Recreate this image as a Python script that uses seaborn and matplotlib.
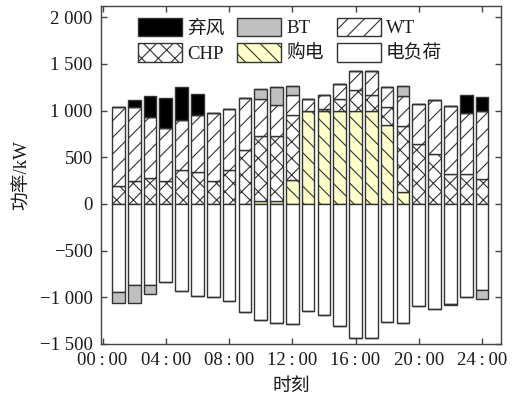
import matplotlib
matplotlib.use("Agg")
import matplotlib.pyplot as plt
from matplotlib.patches import Patch
from matplotlib.ticker import FixedLocator, FuncFormatter
import numpy as np
import pandas as pd
import seaborn as sns

# Hourly power balance (kW), hour 1..24
hours = list(range(1, 25))
grid_buy = [0, 0, 0, 0, 0, 0, 0, 0, 0, 28, 28, 253,
            1000, 1000, 1000, 1000, 1000, 849, 124, 0, 0, 0, 0, 0]
chp = [188, 249, 278, 242, 360, 343, 242, 360, 581, 703, 703, 703,
       0, 20, 124, 224, 170, 186, 707, 642, 535, 321, 321, 268]
wind = [851, 785, 653, 572, 543, 606, 732, 657, 554, 396, 325, 214,
        127, 143, 164, 196, 250, 213, 321, 429, 574, 731, 653, 723]
bt_discharge = [0, 0, 0, 0, 0, 0, 0, 0, 0, 104, 197, 97,
                0, 0, 0, 0, 0, 0, 107, 0, 0, 0, 0, 0]
curtailed = [0, 83, 229, 321, 350, 232, 0, 0, 0, 0, 0, 0,
             0, 0, 0, 0, 0, 0, 0, 0, 0, 0, 196, 155]
load = [946, 871, 871, 839, 928, 982, 1000, 1039, 1156, 1246, 1278, 1289,
        1146, 1189, 1306, 1435, 1435, 1267, 1278, 1089, 1124, 1075, 1000, 918]
bt_charge = [114, 189, 89, 0, 0, 0, 0, 0, 0, 0, 0, 0,
             0, 0, 0, 0, 0, 0, 0, 0, 0, 8, 0, 96]

x_ticks = [0, 4, 8, 12, 16, 20, 24]
x_tick_labels = ["00\u2009:\u200900", "04\u2009:\u200900", "08\u2009:\u200900",
                 "12\u2009:\u200900", "16\u2009:\u200900", "20\u2009:\u200900",
                 "24\u2009:\u200900"]
y_ticks = [-1500, -1000, -500, 0, 500, 1000, 1500, 2000]

sns.set_theme(style="ticks")
plt.rcParams["font.family"] = ["Liberation Serif", "Noto Sans CJK SC"]
plt.rcParams["hatch.linewidth"] = 0.8
plt.rcParams["axes.unicode_minus"] = True

df = pd.DataFrame({
    "hour": hours,
    "buy": grid_buy,
    "chp": chp,
    "wind": wind,
    "bt_dis": bt_discharge,
    "curt": curtailed,
    "load_neg": [-v for v in load],
    "bt_chg_neg": [-v for v in bt_charge],
})

buy_a = np.array(grid_buy, dtype=float)
chp_a = np.array(chp, dtype=float)
wind_a = np.array(wind, dtype=float)
dis_a = np.array(bt_discharge, dtype=float)
load_a = np.array(load, dtype=float)

EDGE = "#333333"
LW = 1.0
styles = {
    "curt": dict(color="#000000", hatch=None, label="弃风"),
    "bt": dict(color="#c0c0c0", hatch=None, label="BT"),
    "wind": dict(color="#ffffff", hatch="//", label="WT"),
    "chp": dict(color="#ffffff", hatch="xx", label="CHP"),
    "buy": dict(color="#ffffcc", hatch="\\\\", label="购电"),
    "load": dict(color="#ffffff", hatch=None, label="电负荷"),
}

fig = plt.figure(figsize=(5.13, 4.09), dpi=100)
ax = fig.add_axes([101 / 513, 1 - 344 / 409, 400 / 513, 338 / 409])


def layer(col, bottom, key):
    st = styles[key]
    kw = dict(edgecolor=EDGE, linewidth=LW, bottom=bottom)
    if st["hatch"]:
        kw["hatch"] = st["hatch"]
    sns.barplot(data=df, x="hour", y=col, native_scale=True, width=0.8,
                color=st["color"], saturation=1, errorbar=None, ax=ax, **kw)


# supply side, stacked upward
layer("buy", 0, "buy")
layer("chp", buy_a, "chp")
layer("wind", buy_a + chp_a, "wind")
layer("bt_dis", buy_a + chp_a + wind_a, "bt")
layer("curt", buy_a + chp_a + wind_a + dis_a, "curt")
# demand side, stacked downward
layer("load_neg", 0, "load")
layer("bt_chg_neg", -load_a, "bt")

ax.set_xlim(-0.1, 25.2)
ax.set_ylim(-1500, 2120)
ax.xaxis.set_major_locator(FixedLocator(x_ticks))
ax.set_xticklabels(x_tick_labels)
ax.yaxis.set_major_locator(FixedLocator(y_ticks))


def thousands(v, pos):
    s = f"{abs(int(round(v))):,}".replace(",", " ")
    return ("\u2212" if v < 0 else "") + s


ax.yaxis.set_major_formatter(FuncFormatter(thousands))

for sp in ax.spines.values():
    sp.set_visible(True)
    sp.set_color("#444444")
    sp.set_linewidth(1.0)

ax.tick_params(direction="in", top=True, right=True, length=4, width=1.0,
               color="#444444", labelsize=13.5, labelcolor="#1a1a1a", pad=6)

ax.set_xlabel("时刻", fontsize=13.5, color="#1a1a1a")
ax.set_ylabel("功率/kW", fontsize=13.5, color="#1a1a1a")
ax.xaxis.set_label_coords(0.475, -0.1)
ax.yaxis.set_label_coords(-0.175, 0.5)

order = ["curt", "chp", "bt", "buy", "wind", "load"]
handles = []
for k in order:
    st = styles[k]
    handles.append(Patch(facecolor=st["color"], edgecolor=EDGE, linewidth=LW,
                         hatch=st["hatch"], label=st["label"]))
leg = ax.legend(handles=handles, ncol=3, loc="upper left",
                bbox_to_anchor=(0.0925, 0.965), frameon=False, borderpad=0,
                borderaxespad=0, fontsize=13.5, handlelength=2.35,
                handleheight=1.15, handletextpad=0.25, columnspacing=0.7,
                labelspacing=0.3)
for t in leg.get_texts():
    t.set_color("#1a1a1a")

fig.savefig("out.png", dpi=100)
